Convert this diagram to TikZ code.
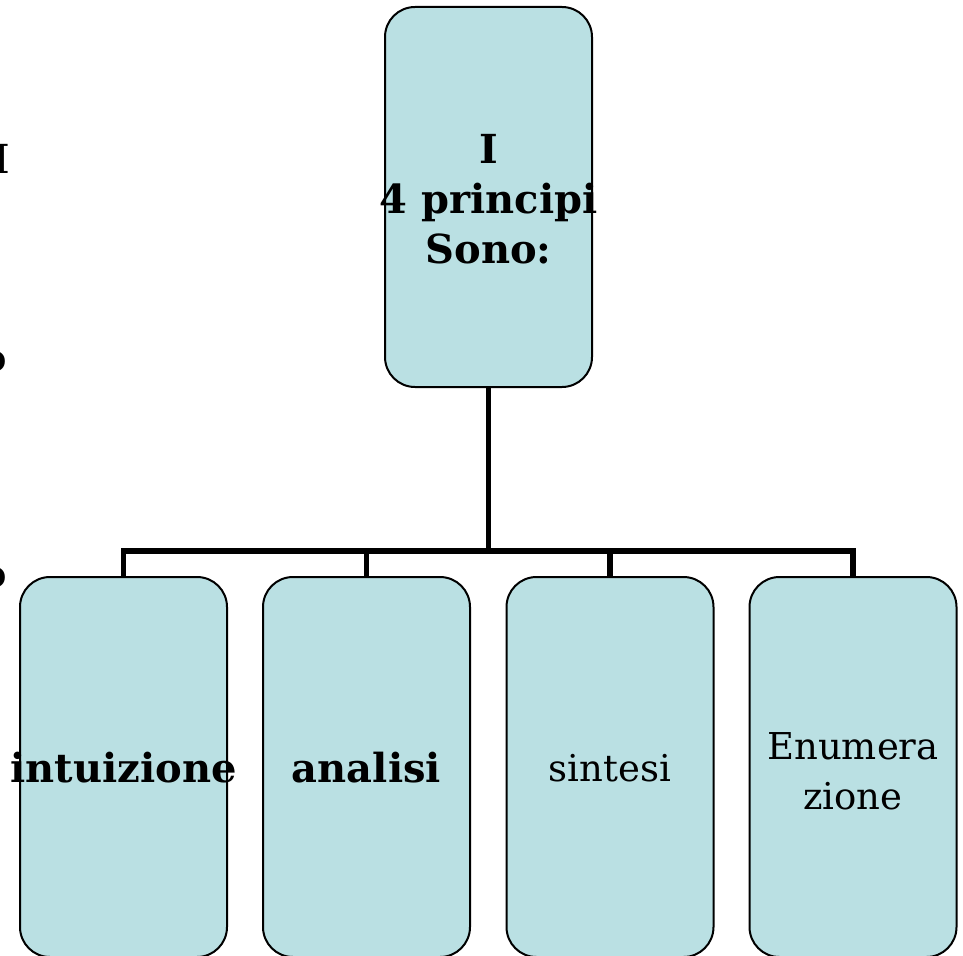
\documentclass[tikz,border=0pt]{standalone}
\usepackage{fontspec}
\setmainfont{DejaVu Serif}
\definecolor{boxfill}{RGB}{186,224,227}
\begin{document}
\begin{tikzpicture}[x=1pt,y=-1pt,
  box/.style={draw=black, line width=2pt, fill=boxfill, rounded corners=30pt,
    minimum width=207pt, minimum height=380pt, inner sep=0pt},
  lbl/.style={align=center, inner sep=0pt, font=\fontsize{37}{50}\selectfont},
  blbl/.style={align=center, inner sep=0pt, font=\fontsize{40}{50}\selectfont\bfseries},
  conn/.style={draw=black, line width=5.5pt}]
\useasboundingbox (0,0) rectangle (963,955);
% text fragments at the left edge
\node[font=\fontsize{40}{46}\selectfont, inner sep=0pt] (fa) at (2,159) {I};
\node[font=\fontsize{38}{46}\selectfont\bfseries, inner sep=0pt, anchor=east] (fb) at (7,362) {o};
\node[font=\fontsize{38}{46}\selectfont\bfseries, inner sep=0pt, anchor=east] (fc) at (7,578) {o};
% boxes
\node[box] (top) at (488.5,197) {};
\node[box] (b1) at (123.5,767) {};
\node[box] (b2) at (366.5,767) {};
\node[box] (b3) at (610,767) {};
\node[box] (b4) at (853,767) {};
% connectors
\coordinate (bar) at (488.5,551);
\draw[conn] (top.south) -- (bar);
\draw[conn] (b1.north) |- (bar) -| (b4.north);
\draw[conn] (b2.north) -- (b2.north |- bar);
\draw[conn] (b3.north) -- (b3.north |- bar);
% labels
\node[blbl] (ttop) at (488.5,199) {I\\4 principi\\Sono:};
\node[blbl] (t1) at (123.5,768) {intuizione};
\node[blbl] (t2) at (366.5,768) {analisi};
\node[lbl] (t3) at (610,768) {sintesi};
\node[lbl] (t4) at (853,771) {Enumera\\zione};
\end{tikzpicture}
\end{document}
